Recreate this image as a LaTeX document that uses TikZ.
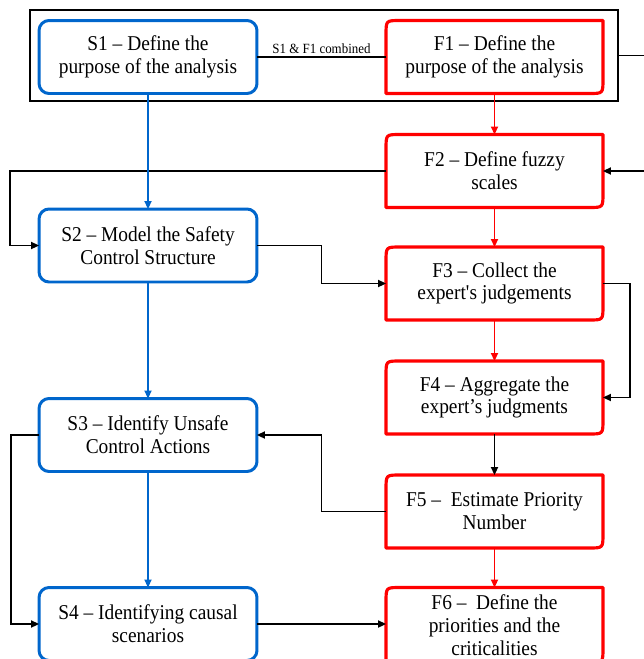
\documentclass[tikz,border=0pt]{standalone}
\usepackage{fontspec}
\setmainfont{Liberation Serif}[FakeStretch=0.92]
\usetikzlibrary{arrows.meta,calc}
\definecolor{sblue}{RGB}{0,102,204}
\definecolor{fred}{RGB}{255,0,0}
\tikzset{
  sbox/.style={draw=sblue, line width=1.7pt, rounded corners=0.2cm, minimum width=4.36cm, minimum height=1.46cm, align=center, inner sep=0pt, outer sep=0pt, font=\fontsize{12}{13}\selectfont},
  fbox/.style={draw=none, minimum width=4.34cm, minimum height=1.46cm, align=center, inner sep=0pt, outer sep=0pt, font=\fontsize{12}{13}\selectfont},
  fline/.style={draw=fred, line width=1.8pt, line join=round},
  conn/.style={line width=0.95pt},
  barr/.style={conn, black, -{Triangle[length=4.5pt,width=4pt]}},
  bluearr/.style={conn, sblue, -{Triangle[length=4.5pt,width=4pt]}},
  redarr/.style={conn, fred, -{Triangle[length=4.5pt,width=4pt]}},
  lbl/.style={font=\fontsize{8}{9}\selectfont, inner sep=1.5pt}
}
\newcommand\redoutline[1]{\draw[fline] ($(#1.north west)+(0,14)$) .. controls (#1.north west) .. ($(#1.north west)+(14,0)$) -- (#1.north east) -- ($(#1.south east)+(0,-14)$) .. controls (#1.south east) .. ($(#1.south east)+(-14,0)$) -- (#1.south west) -- cycle;}
\begin{document}
\begin{tikzpicture}[x=0.02cm, y=-0.02cm]
\useasboundingbox (0,0) rectangle (644,659);
\clip (0,0) rectangle (644,659);

% group frame
\node[draw, line width=1.1pt, minimum width=11.76cm, minimum height=1.82cm, inner sep=0pt, outer sep=0pt] (grp) at (323.8,55.5) {};

% S column
\node[sbox] (S1) at (148,57) {S1 – Define the\\purpose of the analysis};
\node[sbox] (S2) at (148,245.5) {S2 – Model the Safety\\Control Structure};
\node[sbox] (S3) at (148,435) {S3 – Identify Unsafe\\Control Actions};
\node[sbox] (S4) at (148,624) {S4 – Identifying causal\\scenarios};

% F column
\node[fbox] (F1) at (494.5,57) {F1 – Define the\\purpose of the analysis};
\node[fbox] (F2) at (494.5,171) {F2 – Define fuzzy\\scales};
\node[fbox] (F3) at (494.5,283.5) {F3 – Collect the\\expert\textquotesingle s judgements};
\node[fbox] (F4) at (494.5,397.5) {F4 – Aggregate the\\expert’s judgments};
\node[fbox] (F5) at (494.5,511.5) {F5 –\ \ Estimate Priority\\Number};
\node[fbox, minimum height=1.5cm] (F6) at (494.5,625) {F6 –\ \ Define the\\priorities and the\\criticalities};
\foreach \n in {F1,F2,F3,F4,F5,F6} {\redoutline{\n}}

% connectors
\draw[conn] (S1.east) -- node[lbl, above] {S1 \& F1 combined} (F1.west);
\draw[barr] (grp.east) -- ++(40,0) |- (F2.east);
\draw[barr] (F2.west) -| ($(S2.west)+(-29,0)$) -- (S2.west);
\draw[barr] (S2.east) -| ($(S2.east)!.5!(F3.west)$) |- (F3.west);
\draw[barr] (F3.east) -- ++(27,0) |- (F4.east);
\draw[barr] (F4.south) -- (F5.north);
\draw[barr] (F5.west) -| ($(F5.west)!.5!(S3.east)$) |- (S3.east);
\draw[barr] (S3.west) -- ++(-28,0) |- (S4.west);
\draw[barr] (S4.east) -- (S4.east -| F6.west);

\draw[bluearr] (S1.south) -- (S2.north);
\draw[bluearr] (S2.south) -- (S3.north);
\draw[bluearr] (S3.south) -- (S4.north);

\draw[redarr] (F1.south) -- (F2.north);
\draw[redarr] (F2.south) -- (F3.north);
\draw[redarr] (F3.south) -- (F4.north);
\draw[redarr] (F5.south) -- (F6.north);
\end{tikzpicture}
\end{document}
